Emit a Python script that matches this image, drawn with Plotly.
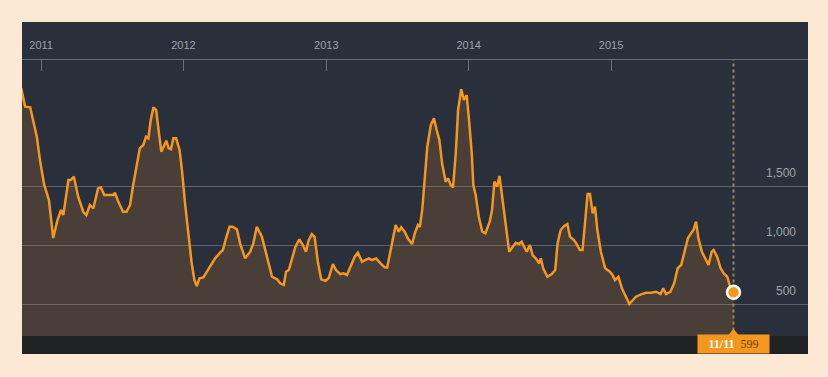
import plotly.graph_objects as go

# ---- data ----
dates = [
    "2010-11-11", "2010-11-21", "2010-12-04", "2010-12-12", "2010-12-21", "2010-12-29",
    "2011-01-09", "2011-01-21", "2011-02-01", "2011-02-12", "2011-02-21", "2011-02-27",
    "2011-03-12", "2011-03-18", "2011-03-26", "2011-04-06", "2011-04-19", "2011-04-27",
    "2011-05-06", "2011-05-15", "2011-05-27", "2011-06-03", "2011-06-12", "2011-07-05",
    "2011-07-09", "2011-07-18", "2011-07-30", "2011-08-08", "2011-08-17", "2011-08-25",
    "2011-09-05", "2011-09-11", "2011-09-20", "2011-09-27", "2011-10-03", "2011-10-09",
    "2011-10-16", "2011-10-23", "2011-10-29", "2011-11-05", "2011-11-11", "2011-11-18",
    "2011-11-24", "2011-11-30", "2011-12-06", "2011-12-13", "2011-12-22", "2011-12-28",
    "2012-01-05", "2012-01-14", "2012-01-22", "2012-01-29", "2012-02-04", "2012-02-11",
    "2012-02-21", "2012-03-01", "2012-03-11", "2012-03-22", "2012-04-04", "2012-04-11",
    "2012-04-19", "2012-04-28", "2012-05-06", "2012-05-17", "2012-05-25", "2012-06-07",
    "2012-06-20", "2012-06-28", "2012-07-07", "2012-07-15", "2012-07-20", "2012-08-02",
    "2012-08-15", "2012-08-28", "2012-09-05", "2012-09-14", "2012-09-20", "2012-09-27",
    "2012-10-05", "2012-10-14", "2012-10-24", "2012-11-02", "2012-11-10", "2012-11-17",
    "2012-11-25", "2012-12-02", "2012-12-11", "2012-12-19", "2012-12-30", "2013-01-07",
    "2013-01-18", "2013-01-26", "2013-02-06", "2013-02-15", "2013-02-23", "2013-03-04",
    "2013-03-15", "2013-03-23", "2013-04-03", "2013-04-11", "2013-04-20", "2013-04-28",
    "2013-05-09", "2013-05-20", "2013-05-31", "2013-06-06", "2013-06-15", "2013-06-28",
    "2013-07-06", "2013-07-12", "2013-07-21", "2013-07-29", "2013-08-09", "2013-08-16",
    "2013-08-24", "2013-08-29", "2013-09-04", "2013-09-10", "2013-09-17", "2013-09-26",
    "2013-10-04", "2013-10-11", "2013-10-18", "2013-10-25", "2013-11-03", "2013-11-09",
    "2013-11-16", "2013-11-22", "2013-11-29", "2013-12-05", "2013-12-13", "2013-12-20",
    "2013-12-27", "2014-01-02", "2014-01-09", "2014-01-13", "2014-01-19", "2014-01-27",
    "2014-02-05", "2014-02-13", "2014-02-24", "2014-03-02", "2014-03-08", "2014-03-15",
    "2014-03-21", "2014-03-28", "2014-04-06", "2014-04-15", "2014-04-24", "2014-05-02",
    "2014-05-10", "2014-05-17", "2014-05-23", "2014-05-30", "2014-06-07", "2014-06-14",
    "2014-06-22", "2014-07-01", "2014-07-05", "2014-07-11", "2014-07-22", "2014-08-02",
    "2014-08-11", "2014-08-17", "2014-08-25", "2014-09-03", "2014-09-11", "2014-09-18",
    "2014-09-28", "2014-10-04", "2014-10-13", "2014-10-20", "2014-10-27", "2014-11-02",
    "2014-11-08", "2014-11-15", "2014-11-21", "2014-11-27", "2014-12-06", "2014-12-17",
    "2014-12-29", "2015-01-05", "2015-01-11", "2015-01-20", "2015-01-29", "2015-02-08",
    "2015-02-17", "2015-02-26", "2015-03-06", "2015-03-19", "2015-04-01", "2015-04-14",
    "2015-04-27", "2015-05-08", "2015-05-15", "2015-05-22", "2015-06-02", "2015-06-12",
    "2015-06-21", "2015-06-30", "2015-07-08", "2015-07-17", "2015-07-25", "2015-08-01",
    "2015-08-07", "2015-08-13", "2015-08-22", "2015-08-31", "2015-09-08", "2015-09-16",
    "2015-09-21", "2015-09-30", "2015-10-09", "2015-10-17", "2015-10-26", "2015-11-01",
    "2015-11-11",
]
values = [
    2330, 2172, 2167, 2059, 1918, 1720,
    1509, 1381, 1059, 1212, 1297, 1254,
    1551, 1551, 1579, 1409, 1282, 1254,
    1339, 1311, 1480, 1489, 1424, 1424,
    1443, 1367, 1282, 1282, 1339, 1509,
    1720, 1820, 1848, 1918, 1904, 2059,
    2167, 2144, 1975, 1791, 1833, 1884,
    1820, 1811, 1904, 1904, 1805, 1636,
    1353, 1070, 845, 703, 653, 718,
    726, 774, 831, 887, 935, 958,
    1057, 1155, 1155, 1133, 1014, 887,
    943, 1014, 1155, 1099, 1070, 901,
    731, 709, 675, 661, 774, 788,
    887, 986, 1048, 1000, 943, 1042,
    1093, 1070, 845, 709, 697, 718,
    839, 788, 754, 760, 746, 816,
    901, 935, 858, 873, 887, 873,
    887, 845, 811, 808, 958, 1170,
    1113, 1150, 1113, 1057, 1009, 1099,
    1170, 1155, 1297, 1551, 1833, 2017,
    2074, 1975, 1890, 1692, 1537, 1565,
    1509, 1489, 1777, 2144, 2320, 2229,
    2271, 2059, 1777, 1509, 1424, 1240,
    1113, 1099, 1198, 1297, 1537, 1495,
    1585, 1409, 1155, 943, 986, 1020,
    1009, 1028, 986, 943, 1000, 915,
    887, 845, 887, 803, 731, 754,
    788, 1014, 1127, 1161, 1178, 1070,
    1042, 1014, 958, 958, 1212, 1432,
    1432, 1269, 1325, 1127, 943, 803,
    774, 746, 703, 731, 633, 562,
    500, 534, 562, 582, 596, 596,
    604, 585, 633, 585, 604, 675,
    803, 831, 930, 1057, 1099, 1133,
    1198, 1057, 943, 887, 831, 943,
    958, 901, 803, 760, 731, 661,
    599,
]
year_ticks = ["2011-01-01", "2012-01-01", "2013-01-01", "2014-01-01", "2015-01-01"]
year_labels = ["2011", "2012", "2013", "2014", "2015"]
y_ticks = [500, 1000, 1500]
last_date = dates[-1]
last_value = values[-1]
last_label = "11/11"

# ---- styles ----
PEACH = "#fde8d3"
PANEL = "#29303b"
ORANGE = "#f5961f"
GRID = "rgba(200,200,205,0.32)"
TXT = "#9ea3aa"

fig = go.Figure()
fig.add_trace(go.Scatter(
    x=dates, y=values, mode="lines",
    line=dict(color=ORANGE, width=2.5),
    fill="tozeroy", fillcolor="rgba(240,140,40,0.17)",
    hoverinfo="skip",
))
fig.add_trace(go.Scatter(
    x=[last_date], y=[last_value], mode="markers",
    marker=dict(size=13, color=ORANGE, line=dict(color="white", width=2.5)),
    hoverinfo="skip", cliponaxis=False,
))

shapes = [
    # top band of the dark panel
    dict(type="rect", xref="paper", yref="paper", x0=0, x1=1, y0=1, y1=1.1377,
         fillcolor=PANEL, line=dict(width=0), layer="below"),
    # bottom dark strip
    dict(type="rect", xref="paper", yref="paper", x0=0, x1=1, y0=-0.065, y1=0,
         fillcolor="#202122", line=dict(width=0), layer="below"),
    # dotted vertical marker line
    dict(type="line", xref="x", yref="paper", x0=last_date, x1=last_date, y0=0.02, y1=1,
         line=dict(color="#9a8848", width=2, dash="dot"), layer="below"),
    # small pointer triangle on top of the value label
    dict(type="path", xref="x", yref="paper",
         xsizemode="pixel", ysizemode="pixel", xanchor=last_date, yanchor=0,
         path="M -6 0 L 6 0 L 0 7 Z",
         fillcolor=ORANGE, line=dict(width=0), layer="above"),
]

annotations = []
for v in y_ticks:
    annotations.append(dict(
        xref="paper", yref="y", x=1, y=v, xanchor="right", yanchor="bottom",
        xshift=-10, yshift=4, showarrow=False,
        text=f"{v:,}", font=dict(family="Liberation Sans, Arial", size=12, color=TXT),
    ))
annotations.append(dict(
    xref="x", yref="paper", x=last_date, y=-0.065, xanchor="center", yanchor="bottom",
    showarrow=False, bgcolor=ORANGE, width=68, height=15, borderpad=1.5,
    text=f"<b>{last_label}</b>  <span style='color:#6e4510'>{last_value}</span>",
    font=dict(family="Liberation Serif, Georgia, serif", size=12, color="white"),
))

fig.update_layout(
    width=828, height=377,
    margin=dict(l=22, r=20, t=60, b=41),
    paper_bgcolor=PEACH, plot_bgcolor=PANEL,
    showlegend=False,
    shapes=shapes, annotations=annotations,
    xaxis=dict(
        type="date", side="top", range=["2010-11-13", "2016-05-20"],
        tickvals=year_ticks, ticktext=year_labels,
        ticks="inside", ticklen=11, tickwidth=1, tickcolor="#6a6f77",
        showline=True, linecolor="#6a6f77", linewidth=1,
        showgrid=False, zeroline=False,
        tickfont=dict(family="Liberation Sans, Arial", size=11, color=TXT),
        ticklabelstandoff=6,
    ),
    yaxis=dict(
        range=[229, 2568], tickvals=y_ticks, showticklabels=False,
        showgrid=True, gridcolor=GRID, gridwidth=1, zeroline=False,
    ),
)

fig.write_html("out.html")
